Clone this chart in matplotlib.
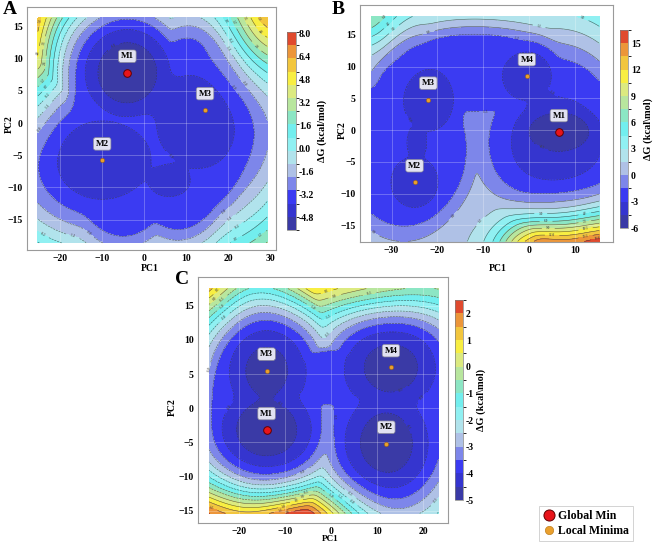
import numpy as np
import matplotlib.pyplot as plt
from matplotlib.colors import ListedColormap, BoundaryNorm
from matplotlib.lines import Line2D

plt.rcParams['font.family'] = ['Liberation Serif', 'DejaVu Serif']
plt.rcParams['font.weight'] = 'bold'

# minima (PC1, PC2)
a_names = ['M1', 'M2', 'M3']
a_x = [-4.0, -10.0, 14.5]
a_y = [7.8, -5.8, 2.0]
b_names = ['M1', 'M2', 'M3', 'M4']
b_x = [6.5, -25.0, -22.0, -0.5]
b_y = [-0.3, -8.2, 4.8, 8.5]
c_names = ['M1', 'M2', 'M3', 'M4']
c_x = [-14.0, 12.0, -14.0, 13.0]
c_y = [-3.2, -5.2, 5.5, 6.0]

# basins around the minima: x, y, depth, width x, width y
a_wells = [(-4, 7.8, -5.65, 7.5, 5.0), (-10, -5.8, -4.7, 12, 6.5), (13, 0.5, -4.6, 11, 8.5),
           (4, 4.5, -4.3, 7, 4.5), (6, -9, -4.3, 7, 3.5)]
# plateau lobes: x, y, level, radius x, radius y, wall slope
a_lobes = [(-4, 3, -3.4, 12, 12, 7.5), (-5, -4, -3.4, 13, 13, 7.5),
           (12, 0, -3.4, 13, 13, 7.5), (8, -4, -3.4, 12, 12, 7.5)]
# extra bumps on the walls: x, y, height, width x, width y
a_bumps = [(29.3, 16.3, 5.0, 7, 7), (-27, 9, 2.0, 4, 7)]

b_wells = [(6.5, -0.3, -5.95, 5.4, 2.5), (6, -2, -4.2, 9, 6.5), (-0.5, 8.5, -4.4, 4.5, 3.2),
           (3, 4, -3.6, 4, 3), (-22, 4.8, -4.2, 5, 4.5), (-25, -8.2, -4.3, 4.5, 3.5),
           (-24.5, -2, -3.5, 3, 4)]
b_lobes = [(-27, -3, -2.3, 12, 11, 7), (-25, 5, -2.3, 8, 8, 7), (-12, 9, -2.3, 18, 5.5, 7),
           (6, -1, -2.3, 12, 11, 7), (-9, -17, 0.3, 9, 6, 3)]
b_bumps = [(16, -19.5, 15.0, 13, 4.5), (0, -19.5, 7.0, 5, 3.5), (-34.3, 17.9, 3.0, 6, 5)]

c_wells = [(-14, -3.2, -4.95, 9.7, 6), (-14, 5.5, -4.75, 9, 7), (12, -5.2, -4.85, 9.5, 7.5),
           (13, 6, -4.8, 10.5, 6.5)]
c_lobes = [(-14, 1, -3.75, 11.5, 11, 5), (13, 0.5, -3.75, 11.5, 12, 3),
           (0, 4.5, -3.75, 8, 3.8, 5)]
c_bumps = [(-8, -17, 3.5, 10, 3.5), (8, 19, 2.5, 14, 3.5),
           (-26.5, 17.5, 1.0, 5, 4), (-26.5, -15.4, 1.0, 6, 4)]

colors = ['#3a3aa6', '#3535cf', '#3b3bf2', '#7d86ea', '#afc1e6', '#b1e3ec', '#90f0f2',
          '#72eeee', '#8ce6c4', '#b8e69e', '#dcea80', '#f8ee42', '#f2c63e', '#ec963a', '#e04a2e']
cmap = ListedColormap(colors)


def landscape(xr, yr, wells, lobes, bumps, temp=0.2, w=0.05):
    x = np.linspace(xr[0], xr[1], 300)
    y = np.linspace(yr[0], yr[1], 300)
    X, Y = np.meshgrid(x, y)
    E = [d + ((X - mx) / sx) ** 2 + ((Y - my) / sy) ** 2 for mx, my, d, sx, sy in wells]
    for lx, ly, d, sx, sy, g in lobes:
        r = np.sqrt(((X - lx) / sx) ** 2 + ((Y - ly) / sy) ** 2)
        E.append(d + g * w * np.logaddexp(0, (r - 1) / w))
    E = np.array(E)
    m = E.min(axis=0)
    Z = m - temp * np.log(np.exp(-(E - m) / temp).sum(axis=0))
    for bx, by, h, sx, sy in bumps:
        Z = Z + h * np.exp(-0.5 * (((X - bx) / sx) ** 2 + ((Y - by) / sy) ** 2))
    return X, Y, Z


def panel(ax, cax, X, Y, Z, levels, ticks, fmt, label, xt, yt, names, px, py, xl, yl):
    Z = np.clip(Z, levels[0] + 1e-6, levels[-1] - 1e-6)
    norm = BoundaryNorm(levels, cmap.N)
    cs = ax.contourf(X, Y, Z, levels=levels, cmap=cmap, norm=norm)
    cl = ax.contour(X, Y, Z, levels=levels[1:-1], colors='#3a3a3a', linewidths=0.4, alpha=0.8)
    ax.clabel(cl, fontsize=2.5, fmt='%.1f', colors='#404040')
    ax.set_xticks(xt)
    ax.set_yticks(yt)
    ax.grid(color='white', alpha=0.3, linewidth=0.6)
    ax.tick_params(length=0, labelsize=7, pad=3)
    for s in ax.spines.values():
        s.set_color('#9a9a9a')
    ax.set_xlabel('PC1', fontsize=7, fontweight='bold')
    ax.set_ylabel('PC2', fontsize=7, fontweight='bold')
    ax.xaxis.set_label_coords(*xl)
    ax.yaxis.set_label_coords(*yl)
    for i, (n, x, y) in enumerate(zip(names, px, py)):
        if i == 0:
            ax.plot(x, y, 'o', ms=5.5, mfc='#e8141a', mec='#600000', mew=0.7, zorder=5)
        else:
            ax.plot(x, y, 'o', ms=3, mfc='#eaa02e', mec='#9a6010', mew=0.4, zorder=5)
        ax.annotate(n, (x, y), xytext=(0, 9), textcoords='offset points', ha='center',
                    va='bottom', fontsize=6.5, fontweight='bold', zorder=6,
                    bbox=dict(boxstyle='round,pad=0.25', fc='#e2e2f2', ec='#8a8a9a', lw=0.5))
    cb = plt.colorbar(cs, cax=cax, ticks=ticks, format=fmt)
    cb.outline.set_edgecolor('#808080')
    cb.outline.set_linewidth(0.5)
    cb.ax.tick_params(length=0, labelsize=7, pad=2)
    cb.set_label(label, fontsize=7.5, fontweight='bold', labelpad=2)


def box(l, t, r, b):
    return [l / 658, 1 - b / 543, (r - l) / 658, (b - t) / 543]


fig = plt.figure(figsize=(6.58, 5.43), dpi=100)

# panel A
ax = fig.add_axes(box(27, 7, 276, 250))
cax = fig.add_axes(box(287, 32, 296, 230))
X, Y, Z = landscape((-25.3, 29.3), (-18.6, 16.3), a_wells, a_lobes, a_bumps)
panel(ax, cax, X, Y, Z, np.linspace(-5.7, 8.1, 16), [-4.8, -3.2, -1.6, 0, 1.6, 3.2, 4.8, 6.4, 8.0],
      '%.1f', 'ΔG (kcal/mol)', [-20, -10, 0, 10, 20, 30], [-20, -15, -10, -5, 0, 5, 10, 15],
      a_names, a_x, a_y, (0.494, -0.058), (-0.052, 0.52))
ax.set_xlim(-27.9, 31.4)
ax.set_ylim(-19.7, 18.0)

# panel B
ax = fig.add_axes(box(360, 5, 613, 242))
cax = fig.add_axes(box(620, 30, 628, 228))
X, Y, Z = landscape((-34.3, 15.3), (-17.5, 17.9), b_wells, b_lobes, b_bumps)
panel(ax, cax, X, Y, Z, np.linspace(-6, 16.5, 16), [-6, -3, 0, 3, 6, 9, 12, 15],
      '%d', 'ΔG (kcal\\mol)', [-30, -20, -10, 0, 10], [-15, -10, -5, 0, 5, 10, 15],
      b_names, b_x, b_y, (0.545, -0.093), (-0.051, 0.47))
ax.set_xlim(-36.9, 18.3)
ax.set_ylim(-17.6, 19.7)

# panel C
ax = fig.add_axes(box(198, 277, 448, 523))
cax = fig.add_axes(box(455, 300, 463, 500))
X, Y, Z = landscape((-26.5, 23.3), (-15.4, 17.5), c_wells, c_lobes, c_bumps)
panel(ax, cax, X, Y, Z, np.linspace(-5.0, 2.5, 16), [-5, -4, -3, -2, -1, 0, 1, 2],
      '%d', 'ΔG (kcal\\mol)', [-20, -10, 0, 10, 20], [-15, -10, -5, 0, 5, 10, 15],
      c_names, c_x, c_y, (0.53, -0.05), (-0.084, 0.47))
ax.xaxis.label.set_fontsize(6.5)
ax.set_xlim(-28.9, 25.4)
ax.set_ylim(-16.8, 19.2)

fig.text(10 / 658, 1 - 9 / 543, 'A', fontsize=14, fontweight='bold', ha='center', va='center')
fig.text(338 / 658, 1 - 9 / 543, 'B', fontsize=14, fontweight='bold', ha='center', va='center')
fig.text(182 / 658, 1 - 280 / 543, 'C', fontsize=14, fontweight='bold', ha='center', va='center')

handles = [Line2D([], [], ls='', marker='o', ms=8, mfc='#e8141a', mec='#600000', mew=0.7),
           Line2D([], [], ls='', marker='o', ms=6, mfc='#eaa02e', mec='#c08020', mew=0.5)]
leg = fig.legend(handles, ['Global Min', 'Local Minima'], loc='upper left',
                 bbox_to_anchor=(533 / 658, 1 - 500 / 543), frameon=True,
                 fancybox=False, handletextpad=0.3, borderpad=0.35, labelspacing=0.25,
                 handlelength=1.0, prop={'weight': 'bold', 'size': 8.5})
leg.get_frame().set_edgecolor('#c0c0c0')
leg.get_frame().set_linewidth(0.6)

plt.savefig('out.png', dpi=100)
